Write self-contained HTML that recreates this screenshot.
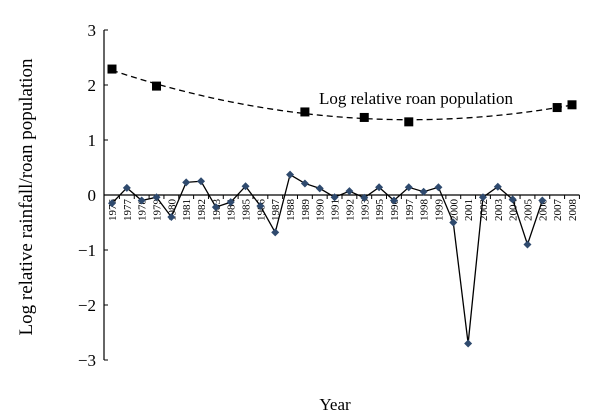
<!DOCTYPE html>
<html><head><meta charset="utf-8">
<style>
html,body{margin:0;padding:0;background:#fff;}
svg{display:block;font-family:"Liberation Serif",serif;}
</style></head>
<body>
<svg width="600" height="416" viewBox="0 0 600 416">
<g id="axes"></g>
<g id="marks"></g>
<text x="32" y="197" transform="rotate(-90 32 197)" text-anchor="middle" font-size="19">Log relative rainfall/roan population</text>
<text x="335" y="416" dy="-6" text-anchor="middle" font-size="17">Year</text>
<text x="319" y="104" font-size="17">Log relative roan population</text>
</svg>
<script>
const categories=["1976","1977","1978","1979","1980","1981","1982","1983","1984","1985","1986","1987","1988","1989","1990","1991","1992","1993","1995","1996","1997","1998","1999","2000","2001","2002","2003","2004","2005","2006","2007","2008"];
const rainfall=[-0.15,0.13,-0.1,-0.04,-0.4,0.23,0.25,-0.22,-0.13,0.16,-0.2,-0.68,0.37,0.21,0.12,-0.04,0.07,-0.05,0.14,-0.1,0.14,0.06,0.14,-0.5,-2.7,-0.04,0.15,-0.08,-0.9,-0.1,null,null];
const popYears=["1976","1979","1989","1993","1997","2007","2008"];
const population=[2.29,1.98,1.51,1.41,1.33,1.59,1.64];
const yTicks=[3,2,1,0,-1,-2,-3];
const NS="http://www.w3.org/2000/svg";
const x0=112,dx=(572-112)/31;
function xScale(i){return x0+i*dx;}
function yScale(v){return 195-v*55;}
function mk(tag,attrs,parent){const e=document.createElementNS(NS,tag);for(const k in attrs)e.setAttribute(k,attrs[k]);parent.appendChild(e);return e;}
const axes=document.getElementById('axes'),marks=document.getElementById('marks');
let yl=mk('line',{x1:104,y1:yScale(3),x2:104,y2:yScale(-3),stroke:'#000','stroke-width':1.2},axes);


yTicks.forEach(t=>{
  let tk=mk('line',{x1:104,x2:108,y1:yScale(t),y2:yScale(t),stroke:'#000'},axes);
  
  
  let lb=mk('text',{x:96,y:yScale(t)+6,'text-anchor':'end','font-size':17},axes);
  lb.textContent=(t<0?'\u2212'+(-t):String(t));
  
  
});
let xl=mk('line',{x1:104,y1:195,x2:xScale(31)+dx/2,y2:195,stroke:'#000','stroke-width':1.2},axes);


categories.forEach((c,i)=>{
  let tk=mk('line',{x1:xScale(i)+dx/2,x2:xScale(i)+dx/2,y1:195,y2:199,stroke:'#000'},axes);
  
  
  const tx=xScale(i)+4,ty=199;
  let lb=mk('text',{x:tx,y:ty,'text-anchor':'end','font-size':11,transform:`rotate(-90 ${tx} ${ty})`},axes);
  lb.textContent=c;
  
  
});
let pts=[];rainfall.forEach((v,i)=>{if(v!==null)pts.push(xScale(i)+','+yScale(v));});
let rl=mk('polyline',{points:pts.join(' '),fill:'none',stroke:'#000','stroke-width':1.3},marks);


rainfall.forEach((v,i)=>{if(v===null)return;const x=xScale(i),y=yScale(v);
  let d=mk('polygon',{points:`${x},${y-4} ${x+4},${y} ${x},${y+4} ${x-4},${y}`,fill:'#2f4a6e'},marks);
  
  
});
const px=popYears.map(y=>categories.indexOf(y)),py=population;
function fit(){let S=[0,0,0,0,0],T=[0,0,0];px.forEach((x,k)=>{for(let p=0;p<5;p++)S[p]+=Math.pow(x,p);for(let p=0;p<3;p++)T[p]+=Math.pow(x,p)*py[k];});
  const A=[[S[0],S[1],S[2],T[0]],[S[1],S[2],S[3],T[1]],[S[2],S[3],S[4],T[2]]];
  for(let i=0;i<3;i++){for(let j=i+1;j<3;j++){const f=A[j][i]/A[i][i];for(let k=i;k<4;k++)A[j][k]-=f*A[i][k];}}
  const c=[0,0,0];for(let i=2;i>=0;i--){let s=A[i][3];for(let k=i+1;k<3;k++)s-=A[i][k]*c[k];c[i]=s/A[i][i];}return c;}
const c=fit();let tp=[];
for(let t=px[0];t<=px[px.length-1]+0.001;t+=0.25){tp.push(xScale(t)+','+yScale(c[0]+c[1]*t+c[2]*t*t));}
let tl=mk('polyline',{points:tp.join(' '),fill:'none',stroke:'#000','stroke-width':1.3,'stroke-dasharray':'6,4'},marks);


population.forEach((v,k)=>{const x=xScale(px[k]),y=yScale(v);
  let s=mk('rect',{x:x-4.5,y:y-4.5,width:9,height:9,fill:'#000'},marks);
  
  
});
</script>
</body></html>
